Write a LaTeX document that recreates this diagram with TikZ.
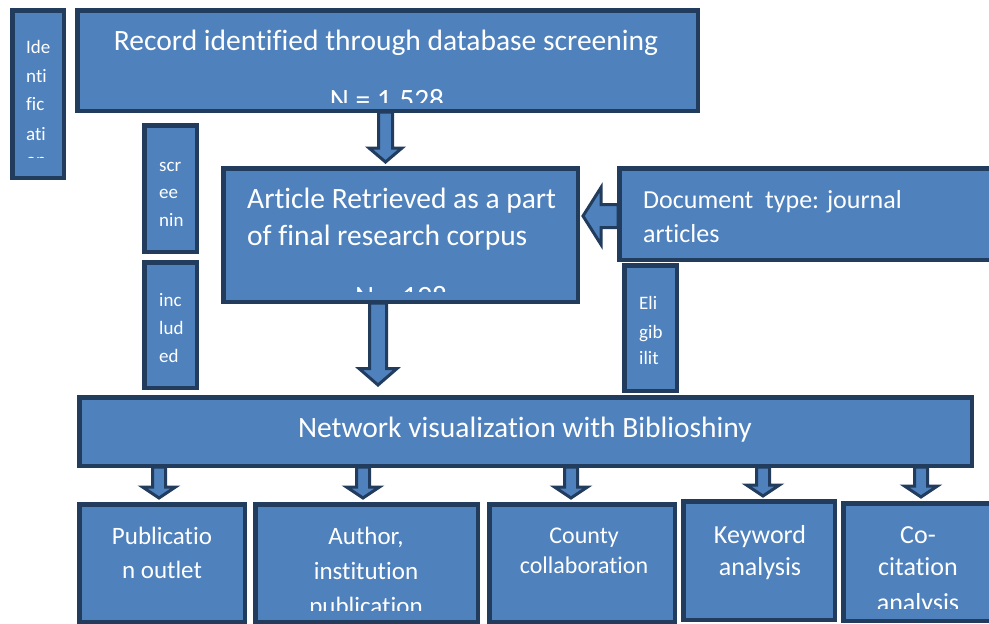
\documentclass[tikz,border=0pt]{standalone}
\usepackage{fontspec}
\setmainfont{Carlito}[Ligatures=NoCommon]
\usetikzlibrary{calc}
\definecolor{bfill}{HTML}{4F81BD}
\definecolor{bdark}{HTML}{223C5E}
\pgfdeclarelayer{bg}
\pgfsetlayers{bg,main}
\tikzset{
  box/.style={draw=bdark, fill=bfill, line width=4.5pt, inner sep=0pt},
  barrow/.style={draw=bdark, fill=bfill, line width=3pt, line join=miter},
  txt/.style={text=white, inner sep=0pt, anchor=base},
  ltxt/.style={text=white, inner sep=0pt, anchor=base west},
}
\newcommand\fs[1]{\fontsize{#1}{#1}\selectfont}
% box from outer corners (x1,y1)-(x2,y2), pixel coordinates
\newcommand\mkbox[5]{\node[box, minimum width={#4-#2-4.5}, minimum height={#5-#3-4.5}] (#1) at ({(#2+#4)/2},{(#3+#5)/2}) {};}
% downward block arrow: #1 top point (x and y), #2 tip (y), #3 shaft half, #4 head half, #5 head length
\newcommand\darrow[5]{\path[barrow] let \p1=#1, \p2=#2 in
  (\x1-#3,\y1) -- (\x1+#3,\y1) -- (\x1+#3,\y2+#5) -- (\x1+#4,\y2+#5) -- (\x1,\y2)
  -- (\x1-#4,\y2+#5) -- (\x1-#3,\y2+#5) -- cycle;}
% leftward block arrow: #1 start (x and y), #2 tip (x)
\newcommand\larrow[5]{\path[barrow] let \p1=#1, \p2=#2 in
  (\x1,\y1-#3) -- (\x1,\y1+#3) -- (\x2+#5,\y1+#3) -- (\x2+#5,\y1+#4) -- (\x2,\y1)
  -- (\x2+#5,\y1-#4) -- (\x2+#5,\y1-#3) -- cycle;}
\begin{document}
\begin{tikzpicture}[x=1pt,y=-1pt]
\clip (0,0) rectangle (989,624);
\begin{pgfonlayer}{bg}
\fill[white] (0,0) rectangle (989,624);
\end{pgfonlayer}
% boxes
\mkbox{ide}{10}{8}{66}{180}
\mkbox{rec}{75}{8}{700}{113}
\mkbox{scr}{142}{123}{199}{254}
\mkbox{inc}{142}{260}{199}{390}
\mkbox{art}{221}{166}{580}{304}
\mkbox{doc}{617}{166}{1000}{262}
\mkbox{eli}{622}{263}{679}{393}
\mkbox{net}{77}{395}{974}{468}
\mkbox{pub}{77}{502}{247}{624}
\mkbox{aut}{253}{502}{480}{624}
\mkbox{cty}{487}{502}{677}{624}
\mkbox{key}{681}{499}{837}{622}
\mkbox{coc}{841}{501}{1000}{623}
% arrows (behind the boxes)
\begin{pgfonlayer}{bg}
\darrow{($(rec.south)+(-2,-1)$)}{($(art.north)+(0,-4)$)}{7pt}{16.5pt}{14pt}
\darrow{($(art.south)+(-22.5,-1)$)}{($(net.north)+(0,-10)$)}{8.5pt}{19pt}{16.5pt}
\larrow{($(doc.west)+(1,2)$)}{($(art.east)+(3,0)$)}{11.5pt}{28.5pt}{18pt}
\darrow{($(net.south -| pub.north)+(-3,-1)$)}{($(pub.north)+(0,-4)$)}{6.5pt}{16.5pt}{11pt}
\darrow{($(net.south -| aut.north)+(-3.5,-1)$)}{($(aut.north)+(0,-4)$)}{6.5pt}{16.5pt}{11pt}
\darrow{($(net.south -| cty.north)+(-11,-1)$)}{($(cty.north)+(0,-4)$)}{6.5pt}{16.5pt}{11pt}
\darrow{($(net.south -| key.north)+(4,-1)$)}{($(key.north)+(0,-3)$)}{6.5pt}{16.5pt}{11pt}
\darrow{($(net.south -| coc.north)+(0.5,-1)$)}{($(coc.north)+(0,-4)$)}{6.5pt}{16.5pt}{11pt}
\end{pgfonlayer}
% texts
\begin{scope}
  \clip (14,12) rectangle (62,157);
  \node[ltxt,font=\fs{19}] (ide1) at (26,53) {Ide};
  \node[ltxt,font=\fs{19}] (ide2) at (26,82) {nti};
  \node[ltxt,font=\fs{19}] (ide3) at (26,110) {fic};
  \node[ltxt,font=\fs{19}] (ide4) at (26,140) {ati};
  \node[ltxt,font=\fs{19}] (ide5) at (26,166) {on};
\end{scope}
\begin{scope}
  \clip (79,12) rectangle (696,102);
  \node[txt,font=\fs{29.5}] (rec1) at (386,50) {Record identified through database screening};
  \node[txt,font=\fs{29.5}] (rec2) at (387,109) {N = 1,528};
\end{scope}
\begin{scope}
  \clip (146,127) rectangle (195,250);
  \node[ltxt,font=\fs{19}] (scr1) at (159,171) {scr};
  \node[ltxt,font=\fs{19}] (scr2) at (159,198) {ee};
  \node[ltxt,font=\fs{19}] (scr3) at (159,226) {nin};
\end{scope}
\begin{scope}
  \clip (146,264) rectangle (195,386);
  \node[ltxt,font=\fs{19}] (inc1) at (159,306) {inc};
  \node[ltxt,font=\fs{19}] (inc2) at (159,334) {lud};
  \node[ltxt,font=\fs{19}] (inc3) at (159,362) {ed};
\end{scope}
\begin{scope}
  \clip (225,170) rectangle (576,291);
  \node[ltxt,font=\fs{29.5}] (art1) at (247,208) {Article Retrieved as a part};
  \node[ltxt,font=\fs{29.5}] (art2) at (247,245) {of final research corpus};
  \node[txt,font=\fs{29.5}] (art3) at (401,306.5) {N = 198};
\end{scope}
\node[ltxt,font=\fs{26}] (doc1) at (643,208) {Document\ \ type: journal};
\node[ltxt,font=\fs{26}] (doc2) at (643,242) {articles};
\begin{scope}
  \clip (626,267) rectangle (675,389);
  \node[ltxt,font=\fs{19}] (eli1) at (639,309) {Eli};
  \node[ltxt,font=\fs{19}] (eli2) at (639,338) {gib};
  \node[ltxt,font=\fs{19}] (eli3) at (639,364) {ilit};
\end{scope}
\node[txt,font=\fs{29.5}] (net1) at (525,437) {Network visualization with Biblioshiny};
\node[txt,font=\fs{25}] (pub1) at (162,544) {Publicatio};
\node[txt,font=\fs{25}] (pub2) at (162,578) {n outlet};
\begin{scope}
  \clip (257,506) rectangle (476,610);
  \node[txt,font=\fs{25}] (aut1) at (366,544) {Author,};
  \node[txt,font=\fs{25}] (aut2) at (366,579) {institution};
  \node[txt,font=\fs{25}] (aut3) at (366,614) {publication};
\end{scope}
\node[txt,font=\fs{24}] (cty1) at (584,543) {County};
\node[txt,font=\fs{24}] (cty2) at (584,573) {collaboration};
\node[txt,font=\fs{26}] (key1) at (760,543) {Keyword};
\node[txt,font=\fs{26}] (key2) at (760,575) {analysis};
\begin{scope}
  \clip (845,505) rectangle (996,608);
  \node[txt,font=\fs{26}] (coc1) at (918,543) {Co-};
  \node[txt,font=\fs{26}] (coc2) at (918,575) {citation};
  \node[txt,font=\fs{26}] (coc3) at (918,611) {analysis};
\end{scope}
\end{tikzpicture}
\end{document}
